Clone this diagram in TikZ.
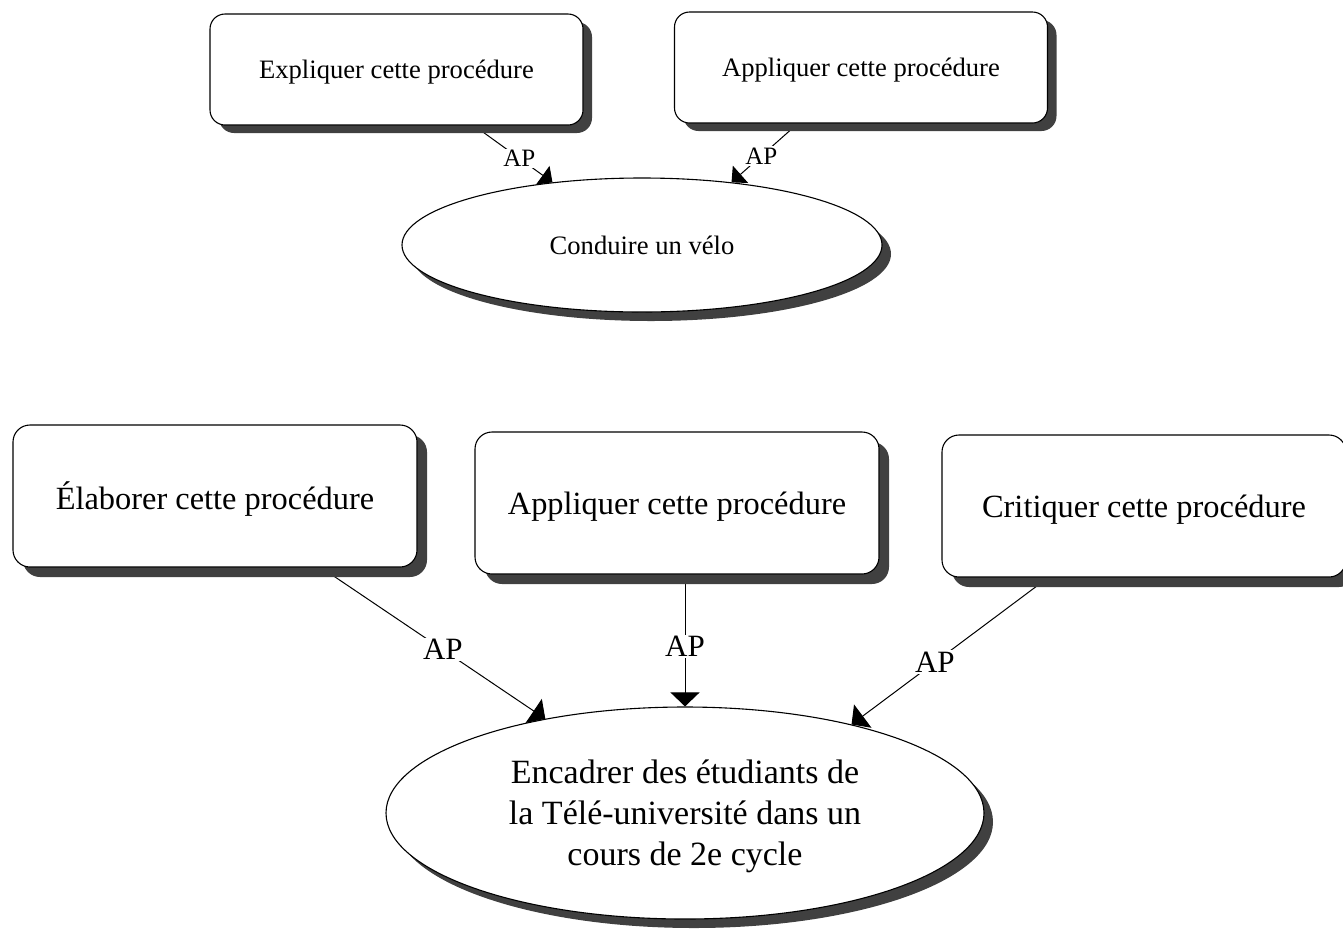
\documentclass[tikz,border=0pt]{standalone}
\usepackage{fontspec}
\setmainfont{Liberation Serif}
\usetikzlibrary{shapes.geometric,arrows.meta,shadows,backgrounds}
\definecolor{shgray}{HTML}{404040}
\begin{document}
\begin{tikzpicture}[x=1pt,y=-1pt,
  base/.style={draw=black, line width=1.1pt, fill=white, inner sep=0pt, align=center, text depth=0pt},
  topbox/.style={base, rounded corners=15pt, minimum width=373pt, minimum height=111pt,
    font=\fontsize{26.6}{32}\selectfont,
    drop shadow={shadow xshift=9pt, shadow yshift=-8pt, fill=shgray, opacity=1}},
  botbox/.style={base, rounded corners=17pt, minimum width=404pt, minimum height=142pt,
    font=\fontsize{32.4}{39}\selectfont,
    drop shadow={shadow xshift=10pt, shadow yshift=-10pt, fill=shgray, opacity=1}},
  ell/.style={base, ellipse, drop shadow={shadow xshift=9pt, shadow yshift=-9pt, fill=shgray, opacity=1}},
  conn/.style={draw=black, line width=1pt},
  tiptop/.style={-{Triangle[length=12pt,width=23pt]}},
  tipbot/.style={-{Triangle[length=14pt,width=29pt]}},
  labtop/.style={fill=white, inner sep=1.5pt, font=\fontsize{25}{30}\selectfont},
  labbot/.style={fill=white, inner sep=1.5pt, font=\fontsize{31}{37}\selectfont}
]
\useasboundingbox (0,0) rectangle (1343,930);

% top diagram
\node[topbox] (b1) at (396.5,69.5) {Expliquer cette procédure};
\node[topbox] (b2) at (861,67.5) {Appliquer cette procédure};
\node[ell, minimum width=480pt, minimum height=134pt, font=\fontsize{26.6}{32}\selectfont] (e1) at (642,245) {Conduire un vélo};

% bottom diagram
\node[botbox] (ba) at (215,496) {Élaborer cette procédure};
\node[botbox] (bb) at (677,503) {Appliquer cette procédure};
\node[botbox] (bc) at (1144,506) {Critiquer cette procédure};
\node[ell, minimum width=598pt, minimum height=212pt, font=\fontsize{34}{41}\selectfont] (e2) at (685,813)
  {Encadrer des étudiants de\\la Télé-université dans un\\cours de 2e cycle};

\begin{scope}[on background layer]
  \draw[conn, tiptop] (b1.center) -- node[labtop, pos=0.787] (l1) {AP} (e1.145);
  \draw[conn, tiptop] (b2.center) -- node[labtop, pos=0.77] (l2) {AP} (e1.35);
  \draw[conn, tipbot] (ba.center) -- node[labbot, pos=0.69] (l3) {AP} (e2.146);
  \draw[conn, tipbot] (e2.north |- bb.center) -- node[labbot, pos=0.706] (l4) {AP} (e2.north);
  \draw[conn, tipbot] (bc.center) -- node[labbot, pos=0.715] (l5) {AP} (e2.28);
\end{scope}
\end{tikzpicture}
\end{document}
